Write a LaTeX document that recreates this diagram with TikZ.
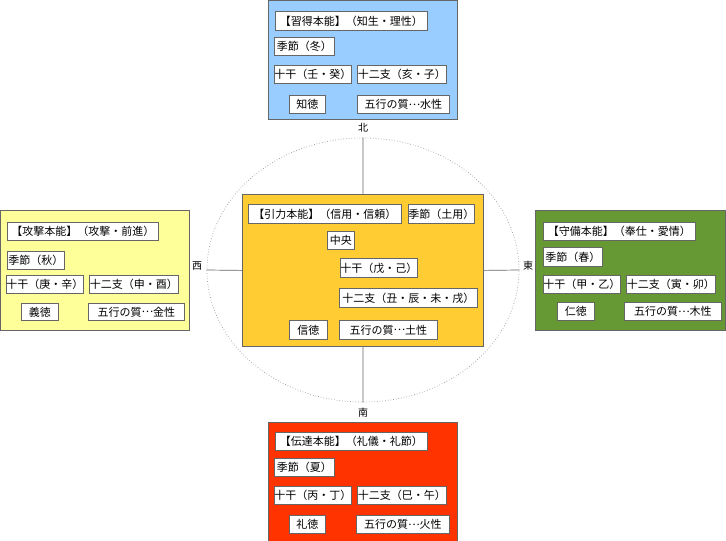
\documentclass[tikz,border=0pt]{standalone}
\usepackage{fontspec}
\newfontfamily\jpfont{Noto Sans CJK JP}
\usetikzlibrary{shapes.geometric}
\definecolor{kita}{HTML}{99CCFF}
\definecolor{chuo}{HTML}{FFCC33}
\definecolor{nishi}{HTML}{FFFF99}
\definecolor{higashi}{HTML}{669933}
\definecolor{minami}{HTML}{FF3300}
\newcommand{\tenten}{\raisebox{0.32em}{…}}
\tikzset{
  region/.style={draw=black!60, line width=0.8pt, anchor=north west, inner sep=0pt},
  cell/.style={draw=black!60, line width=0.7pt, fill=white, anchor=north west, inner sep=0pt,
    font=\jpfont\fontsize{11}{12}\selectfont},
  hogaku/.style={font=\jpfont\fontsize{10}{12}\selectfont, inner sep=0pt},
  link/.style={draw=black!60, line width=0.7pt}
}
\begin{document}
\begin{tikzpicture}[x=1pt,y=-1pt]
  \useasboundingbox (0,0) rectangle (726,541);
  % ring and directions
  \node[ellipse, draw=black!40, dotted, line width=0.7pt, minimum width=312pt, minimum height=264pt, inner sep=0pt] (ring) at (363,270) {};
  \node[hogaku] (kitaL) at (363,128) {北};
  \node[hogaku] (minamiL) at (363,413) {南};
  \node[hogaku] (nishiL) at (197,266) {西};
  \node[hogaku] (higashiL) at (528,266) {東};
  % the five regions
  \node[region, fill=kita, minimum width=189pt, minimum height=119pt] (kitaB) at (268,0) {};
  \node[region, fill=chuo, minimum width=241pt, minimum height=152pt] (chuoB) at (242,194) {};
  \node[region, fill=nishi, minimum width=189pt, minimum height=120pt] (nishiB) at (0,210) {};
  \node[region, fill=higashi, minimum width=190pt, minimum height=120pt] (higashiB) at (535,210) {};
  \node[region, fill=minami, minimum width=189pt, minimum height=119pt] (minamiB) at (268,422) {};
  \draw[link] (ring.north) -- (chuoB.north);
  \draw[link] (ring.south) -- (chuoB.south);
  \draw[link] (ring.west) -- (chuoB.west);
  \draw[link] (ring.east) -- (chuoB.east);
  % north
  \node[cell, minimum width=152pt, minimum height=19pt] (kita1) at (275,11) {【習得本能】（知生・理性）};
  \node[cell, minimum width=60pt, minimum height=18pt] (kita2) at (274,37) {季節（冬）};
  \node[cell, minimum width=75pt, minimum height=18pt] (kita3) at (274,65) {十干（壬・癸）};
  \node[cell, minimum width=89pt, minimum height=18pt] (kita4) at (357,65) {十二支（亥・子）};
  \node[cell, minimum width=36pt, minimum height=18pt] (kita5) at (289,95) {知徳};
  \node[cell, minimum width=92pt, minimum height=18pt] (kita6) at (357,95) {五行の質\tenten 水性};
  % center
  \node[cell, minimum width=153pt, minimum height=19pt] (chuo1) at (248,204) {【引力本能】（信用・信頼）};
  \node[cell, minimum width=65pt, minimum height=19pt] (chuo2) at (408,204) {季節（土用）};
  \node[cell, minimum width=27pt, minimum height=18pt] (chuo3) at (327,231) {中央};
  \node[cell, minimum width=77pt, minimum height=19pt] (chuo4) at (340,258) {十干（戊・己）};
  \node[cell, minimum width=138pt, minimum height=19pt] (chuo5) at (339,288) {十二支（丑・辰・未・戌）};
  \node[cell, minimum width=38pt, minimum height=19pt] (chuo6) at (289,320) {信徳};
  \node[cell, minimum width=98pt, minimum height=19pt] (chuo7) at (339,320) {五行の質\tenten 土性};
  % west
  \node[cell, minimum width=151pt, minimum height=18pt] (nishi1) at (7,222) {【攻撃本能】（攻撃・前進）};
  \node[cell, minimum width=57pt, minimum height=18pt] (nishi2) at (7,251) {季節（秋）};
  \node[cell, minimum width=76pt, minimum height=18pt] (nishi3) at (6,275) {十干（庚・辛）};
  \node[cell, minimum width=89pt, minimum height=18pt] (nishi4) at (89,275) {十二支（申・酉）};
  \node[cell, minimum width=37pt, minimum height=17pt] (nishi5) at (21,303) {義徳};
  \node[cell, minimum width=96pt, minimum height=17pt] (nishi6) at (88,303) {五行の質\tenten 金性};
  % east
  \node[cell, minimum width=152pt, minimum height=18pt] (higashi1) at (543,222) {【守備本能】（奉仕・愛情）};
  \node[cell, minimum width=59pt, minimum height=19pt] (higashi2) at (543,247) {季節（春）};
  \node[cell, minimum width=75pt, minimum height=18pt] (higashi3) at (543,275) {十干（甲・乙）};
  \node[cell, minimum width=89pt, minimum height=18pt] (higashi4) at (626,275) {十二支（寅・卯）};
  \node[cell, minimum width=37pt, minimum height=18pt] (higashi5) at (557,302) {仁徳};
  \node[cell, minimum width=97pt, minimum height=18pt] (higashi6) at (624,302) {五行の質\tenten 木性};
  % south
  \node[cell, minimum width=152pt, minimum height=18pt] (minami1) at (275,432) {【伝達本能】（礼儀・礼節）};
  \node[cell, minimum width=60pt, minimum height=18pt] (minami2) at (274,458) {季節（夏）};
  \node[cell, minimum width=75pt, minimum height=18pt] (minami3) at (274,486) {十干（丙・丁）};
  \node[cell, minimum width=89pt, minimum height=18pt] (minami4) at (357,486) {十二支（巳・午）};
  \node[cell, minimum width=36pt, minimum height=18pt] (minami5) at (289,515) {礼徳};
  \node[cell, minimum width=93pt, minimum height=18pt] (minami6) at (356,515) {五行の質\tenten 火性};
\end{tikzpicture}
\end{document}
